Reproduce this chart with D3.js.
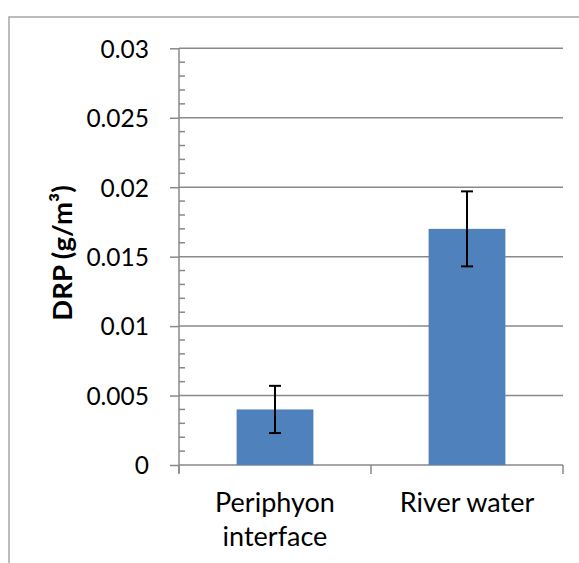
<!DOCTYPE html>
<html><head><meta charset="utf-8">
<script src="https://d3js.org/d3.v7.min.js"></script>
<style>body{margin:0;background:#fff}svg{display:block}</style>
</head><body>
<script>
const categories = [["Periphyon","interface"],["River water"]];
const values = [0.004, 0.017];
const errors = [0.0017, 0.0027];
const yTicks = [0, 0.005, 0.01, 0.015, 0.02, 0.025, 0.03];
const yTickLabels = ["0","0.005","0.01","0.015","0.02","0.025","0.03"];
const yLabel = "DRP (g/m³)";

(function(){
const W = 579, H = 563;
const svg = d3.select("body").append("svg").attr("width", W).attr("height", H);
const font = "Lato, 'Open Sans', sans-serif";
const gray = "#898989";

// outer border
svg.append("rect").attr("x",9).attr("y",17).attr("width",580).attr("height",560)
  .attr("fill","none").attr("stroke","#a6a6a6").attr("stroke-width",1.5);

const pLeft = 179, pRight = 563, pTop = 48.3, pBottom = 465;
const x = d3.scaleBand().domain(categories.map((c,i)=>i)).range([pLeft,pRight]).paddingInner(0.6).paddingOuter(0.3);
const y = d3.scaleLinear().domain([0,0.03]).range([pBottom, pTop]);

// gridlines
svg.append("g").selectAll("line").data(yTicks.slice(1)).join("line")
  .attr("x1",pLeft).attr("x2",pRight).attr("y1",d=>y(d)).attr("y2",d=>y(d))
  .attr("stroke",gray).attr("stroke-width",1.5);

// minor ticks
const minor = d3.range(0,31).map(i=>i*0.001).filter((d,i)=>i%5!==0);
svg.append("g").selectAll("line").data(minor).join("line")
  .attr("x1",pLeft).attr("x2",pLeft+6).attr("y1",d=>y(d)).attr("y2",d=>y(d))
  .attr("stroke",gray).attr("stroke-width",1.5);

// y axis
const yAxis = d3.axisLeft(y).tickValues(yTicks).tickFormat((d,i)=>yTickLabels[i]).tickSize(9).tickPadding(21);
const gy = svg.append("g").attr("transform",`translate(${pLeft},0)`).call(yAxis);
gy.select(".domain").remove();
gy.selectAll(".tick line").attr("stroke",gray).attr("stroke-width",1.5);
gy.selectAll(".tick text").attr("font-family",font).attr("font-size",24.5).attr("fill","#000").attr("dy","0.36em");
svg.append("line").attr("x1",pLeft).attr("x2",pLeft).attr("y1",pTop).attr("y2",pBottom+8)
  .attr("stroke",gray).attr("stroke-width",1.5);

// x axis
svg.append("line").attr("x1",pLeft).attr("x2",pRight).attr("y1",pBottom).attr("y2",pBottom)
  .attr("stroke",gray).attr("stroke-width",1.5);
const bandStep = (pRight-pLeft)/categories.length;
const xticks = d3.range(categories.length+1).map(i=>pLeft+i*bandStep);
svg.append("g").selectAll("line").data(xticks).join("line")
  .attr("x1",d=>d).attr("x2",d=>d).attr("y1",pBottom).attr("y2",pBottom+9)
  .attr("stroke",gray).attr("stroke-width",1.5);

// bars
svg.append("g").selectAll("rect").data(values).join("rect")
  .attr("x",(d,i)=>x(i)).attr("width",x.bandwidth())
  .attr("y",d=>y(d)).attr("height",d=>pBottom-y(d))
  .attr("fill","#4f81bd");

// error bars
const eg = svg.append("g").attr("stroke","#000").attr("stroke-width",2);
values.forEach((v,i)=>{
  const cx = x(i)+x.bandwidth()/2;
  eg.append("line").attr("x1",cx).attr("x2",cx).attr("y1",y(v+errors[i])).attr("y2",y(v-errors[i]));
  eg.append("line").attr("x1",cx-6).attr("x2",cx+6).attr("y1",y(v+errors[i])).attr("y2",y(v+errors[i]));
  eg.append("line").attr("x1",cx-6).attr("x2",cx+6).attr("y1",y(v-errors[i])).attr("y2",y(v-errors[i]));
});

// x labels
categories.forEach((c,i)=>{
  const cx = x(i)+x.bandwidth()/2;
  const t = svg.append("text").attr("x",cx).attr("y",512).attr("text-anchor","middle")
    .attr("font-family",font).attr("font-size",27).attr("fill","#000");
  c.forEach((line,j)=>t.append("tspan").attr("x",cx).attr("dy",j?33.5:0).text(line));
});

// y label
svg.append("text").attr("transform",`translate(72,253) rotate(-90)`)
  .attr("text-anchor","middle").attr("font-family",font).attr("font-size",27.5)
  .attr("font-weight","bold").attr("fill","#000").text(yLabel);
})();
</script>
</body></html>
